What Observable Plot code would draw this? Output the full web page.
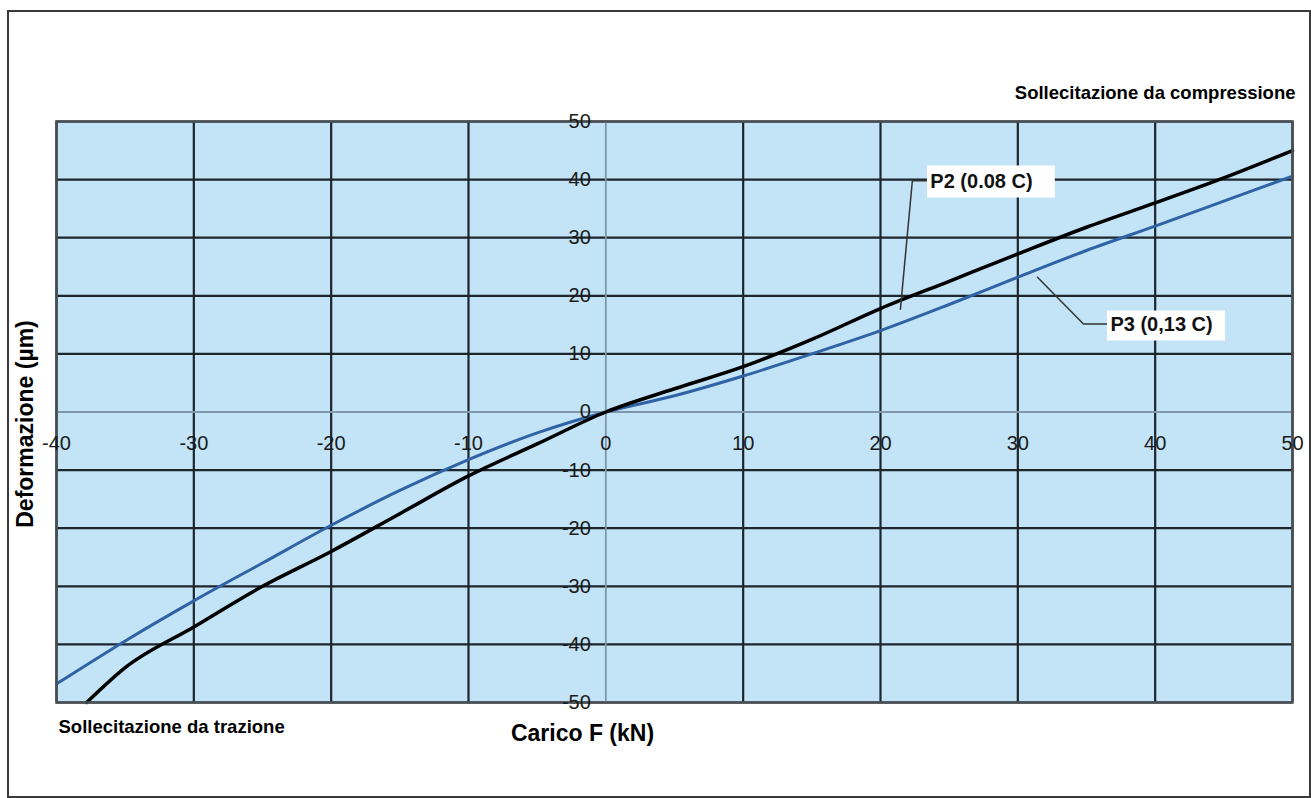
<!DOCTYPE html>
<html>
<head>
<meta charset="utf-8">
<script src="https://cdn.jsdelivr.net/npm/d3@7"></script>
<script src="https://cdn.jsdelivr.net/npm/@observablehq/plot@0.6"></script>
<style>
  html, body { margin: 0; padding: 0; background: #fff; }
  #wrap { position: relative; width: 1311px; height: 798px; overflow: hidden; font-family: "Liberation Sans", Arial, sans-serif; }
  #chart { position: absolute; left: 0; top: 0; }
  #border { position: absolute; left: 7px; top: 10px; width: 1304px; height: 788px; box-sizing: border-box; border: 2px solid #3a3a3a; pointer-events: none; }
</style>
</head>
<body>
<div id="wrap">
  <div id="chart"></div>
  <div id="border"></div>
</div>
<script>
// ---- data ----
const xTicks = [-40, -30, -20, -10, 0, 10, 20, 30, 40, 50];
const yTicks = [50, 40, 30, 20, 10, 0, -10, -20, -30, -40, -50];

// P2 (0.08 C) - black curve
const p2Load = [-37.8, -35, -30, -25, -20, -15, -10, -5, 0, 5, 10, 15, 20, 25, 30, 35, 40, 45, 50];
const p2Def  = [-50, -44, -37, -30, -24, -17.5, -11, -5.5, 0, 4, 7.8, 12.5, 17.8, 22.5, 27.2, 31.8, 36, 40.3, 45];

// P3 (0,13 C) - blue curve
const p3Load = [-40, -35, -30, -25, -20, -15, -10, -5, 0, 5, 10, 15, 20, 25, 30, 35, 40, 45, 50];
const p3Def  = [-46.8, -39.4, -32.5, -26, -19.5, -13.5, -8.2, -3.6, 0, 2.8, 6.2, 10, 14, 18.5, 23.2, 27.8, 32, 36.3, 40.6];

const labelP2 = "P2 (0.08 C)";
const labelP3 = "P3 (0,13 C)";
const titleX = "Carico F (kN)";
const titleY = "Deformazione (µm)";
const noteTop = "Sollecitazione da compressione";
const noteBottom = "Sollecitazione da trazione";

// annotation anchors (data units)
const p2Leader = [[23.42, 39.8], [22.32, 39.8], [21.45, 17.7]];
const p3Leader = [[31.43, 23.2], [34.78, 15.15], [36.53, 15.15]];
const p2Box = {x1: 23.42, x2: 32.73, y1: 36.83, y2: 42.34, tx: 23.63, ty: 39.7};
const p3Box = {x1: 36.53, x2: 45.13, y1: 12.22, y2: 17.38, tx: 36.74, ty: 15.1};

const p2 = p2Load.map((x, i) => ({x, y: p2Def[i]}));
const p3 = p3Load.map((x, i) => ({x, y: p3Def[i]}));

const fontFam = "Liberation Sans, Arial, sans-serif";

const chart = Plot.plot({
  width: 1311,
  height: 798,
  marginLeft: 56,
  marginRight: 19,
  marginTop: 121,
  marginBottom: 96,
  style: {fontFamily: fontFam, background: "transparent", overflow: "visible"},
  x: {domain: [-40, 50], axis: null},
  y: {domain: [-50, 50], axis: null},
  marks: [
    Plot.frame({fill: "#c3e3f6", stroke: "none"}),
    Plot.ruleX(xTicks.filter(d => d !== 0), {stroke: "#1c262c", strokeWidth: 2.2}),
    Plot.ruleY(yTicks.filter(d => d !== 0), {stroke: "#1c262c", strokeWidth: 2.2}),
    Plot.ruleX([0], {stroke: "#7e97aa", strokeWidth: 1.8}),
    Plot.ruleY([0], {stroke: "#7e97aa", strokeWidth: 1.8}),
    Plot.line(p3, {x: "x", y: "y", stroke: "#2f63a5", strokeWidth: 3, curve: "monotone-x"}),
    Plot.line(p2, {x: "x", y: "y", stroke: "#000", strokeWidth: 3.5, curve: "monotone-x"}),
    Plot.line(p2Leader, {x: d => d[0], y: d => d[1], stroke: "#333", strokeWidth: 1.5}),
    Plot.line(p3Leader, {x: d => d[0], y: d => d[1], stroke: "#333", strokeWidth: 1.5}),
    Plot.rect([p2Box, p3Box], {x1: "x1", x2: "x2", y1: "y1", y2: "y2", fill: "#fff"}),
    Plot.text([{...p2Box, t: labelP2}, {...p3Box, t: labelP3}], {
      x: "tx", y: "ty", text: "t", textAnchor: "start", lineAnchor: "middle", fontSize: 20, fontWeight: "bold", fill: "#111"
    }),
    Plot.frame({stroke: "#4a4f53", strokeWidth: 2.5}),
    Plot.text(xTicks, {x: d => d, y: () => 0, dy: 32, text: d => String(d), lineAnchor: "middle", fontSize: 20, fill: "#1a1a1a"}),
    Plot.text(yTicks, {x: () => 0, y: d => d, dx: -15, text: d => String(d), textAnchor: "end", lineAnchor: "middle", fontSize: 20, fill: "#1a1a1a"}),
    Plot.text([noteTop], {frameAnchor: "top-right", dx: 3, dy: -28, textAnchor: "end", lineAnchor: "middle", fontSize: 18.5, fontWeight: "bold", fill: "#000"}),
    Plot.text([noteBottom], {frameAnchor: "bottom-left", dx: 2, dy: 25, textAnchor: "start", lineAnchor: "middle", fontSize: 18.5, fontWeight: "bold", fill: "#000"}),
    Plot.text([titleX], {frameAnchor: "bottom", dx: -92, dy: 31, textAnchor: "middle", lineAnchor: "middle", fontSize: 23, fontWeight: "bold", fill: "#000"}),
    Plot.text([titleY], {frameAnchor: "left", dx: -31, dy: 12, rotate: -90, textAnchor: "middle", lineAnchor: "middle", fontSize: 23, fontWeight: "bold", fill: "#000"})
  ]
});
document.getElementById("chart").appendChild(chart);
</script>
</body>
</html>
